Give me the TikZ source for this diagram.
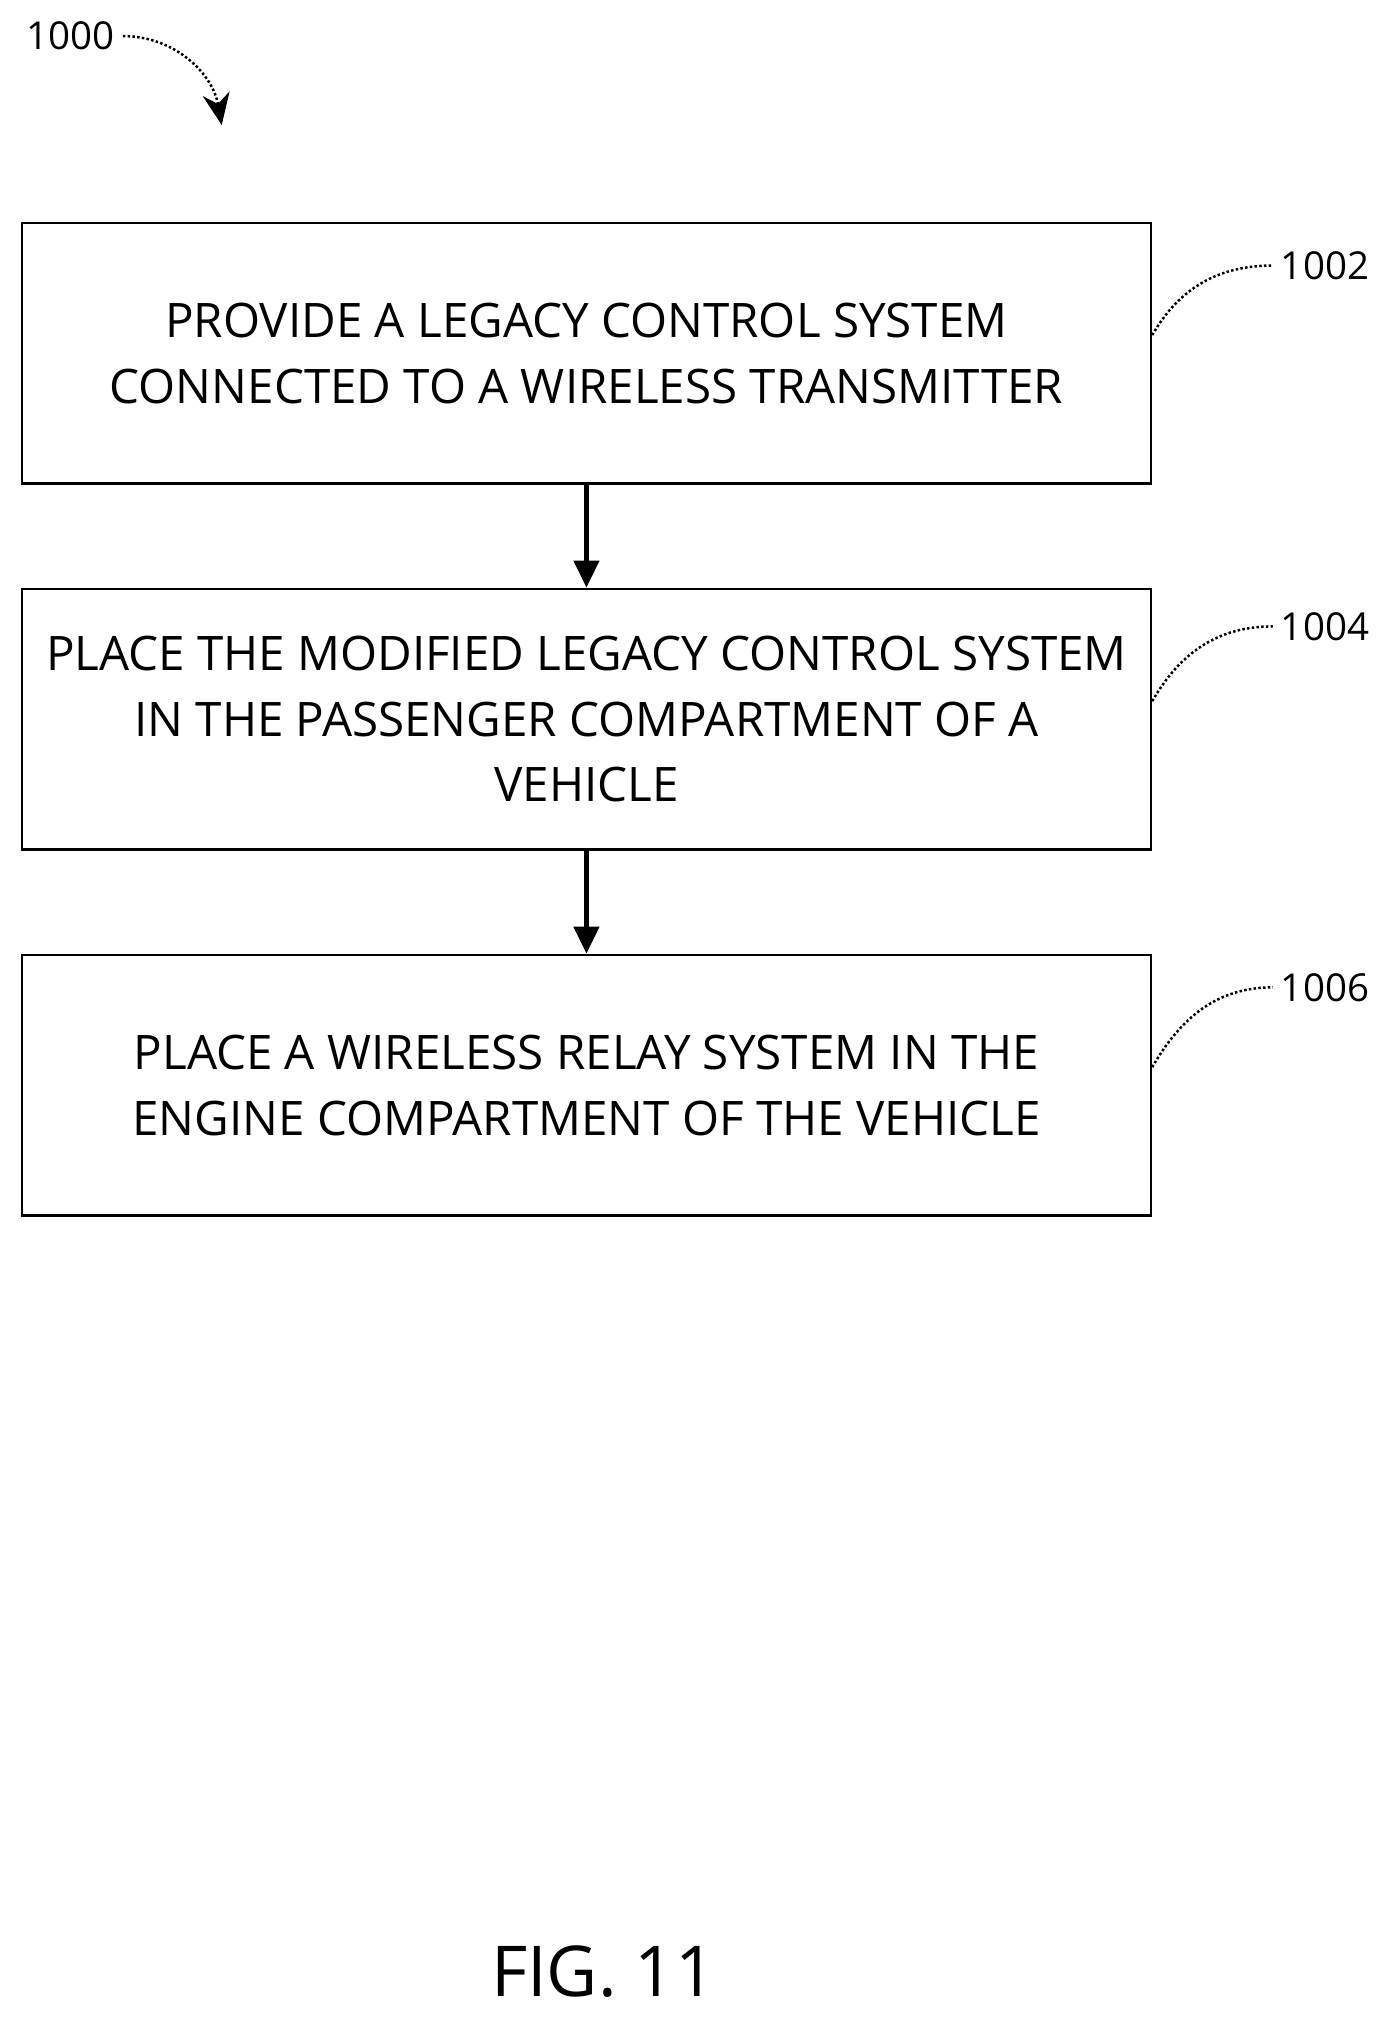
\documentclass[tikz,border=0pt]{standalone}
\usepackage{fontspec}
\setmainfont{Open Sans}
\usetikzlibrary{positioning,arrows.meta}
\begin{document}
\begin{tikzpicture}[x=0.02cm,y=-0.02cm,
    stepbox/.style={draw, line width=1.2pt, minimum width=17.52cm, minimum height=4.04cm, align=center, font=\fontsize{21}{29}\selectfont},
    ref/.style={font=\fontsize{17}{20}\selectfont},
    lead/.style={line width=1.1pt, densely dotted}]
        \useasboundingbox (0,0) rectangle (1080,1568);
        % Define nodes
        \node[stepbox] (S1) at (455,274) {PROVIDE A LEGACY CONTROL SYSTEM\\CONNECTED TO A WIRELESS TRANSMITTER};
        \node[stepbox] (S2) at (455,558) {PLACE THE MODIFIED LEGACY CONTROL SYSTEM\\IN THE PASSENGER COMPARTMENT OF A\\VEHICLE};
        \node[stepbox] (S3) at (455,842) {PLACE A WIRELESS RELAY SYSTEM IN THE\\ENGINE COMPARTMENT OF THE VEHICLE};
        
        \node[ref] (L0) at (55,28) {1000};
        \node[ref] (L1) at (1028,206) {1002};
        \node[ref] (L2) at (1028,486) {1004};
        \node[ref] (L3) at (1028,766) {1006};
        \node[font=\fontsize{31}{36}\selectfont] (F) at (468,1530) {FIG. 11};
        
        % Draw edges
        \draw[-{Triangle[length=12pt,width=11pt]}, line width=2.2pt] (S1) -- (S2);
        \draw[-{Triangle[length=12pt,width=11pt]}, line width=2.2pt] (S2) -- (S3);
        
        \draw[lead, -{Stealth[length=14pt,width=12pt]}] (L0.east) to [out=0, in=100] (172,97);
        \foreach \i in {1,2,3}
            \draw[lead] (S\i.north east) ++(0,88) to [out=60, in=180] (L\i.west);
    \end{tikzpicture}
\end{document}
